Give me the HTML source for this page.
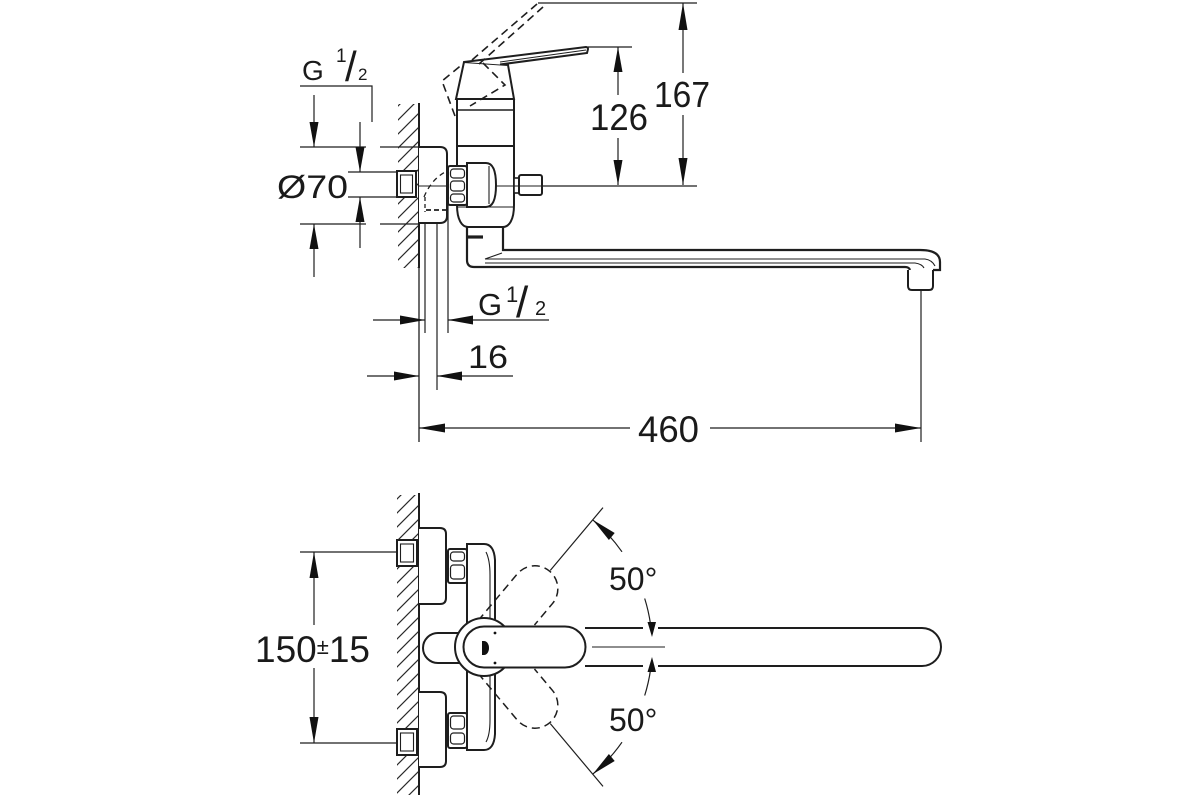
<!DOCTYPE html>
<html>
<head>
<meta charset="utf-8">
<style>
html,body{margin:0;padding:0;background:#fff;}
svg{display:block;}
text{font-family:"Liberation Sans",sans-serif;fill:#1a1a1a;}
</style>
</head>
<body>
<svg width="1200" height="800" viewBox="0 0 1200 800" xmlns="http://www.w3.org/2000/svg">
<defs>
<pattern id="h" patternUnits="userSpaceOnUse" width="14" height="14">
<path d="M0,14 L14,0 M-2,2 L2,-2 M12,16 L16,12" stroke="#2a2a2a" stroke-width="1.2" fill="none"/>
</pattern>
</defs>
<rect width="1200" height="800" fill="#fff"/>

<!-- ================= TOP VIEW (elevation) ================= -->
<g stroke="#1e1e1e" fill="none" stroke-linecap="butt">
<rect x="398" y="104" width="21" height="164" fill="url(#h)" stroke="none"/>
<line x1="419" y1="103" x2="419" y2="268" stroke-width="2"/>
<line x1="419" y1="268" x2="419" y2="442" stroke-width="1.3"/>

<g stroke-width="1.2">
<line x1="300" y1="147" x2="366" y2="147"/>
<line x1="380" y1="147" x2="419" y2="147"/>
<line x1="300" y1="224" x2="366" y2="224"/>
<line x1="380" y1="224" x2="419" y2="224"/>
<line x1="348" y1="172" x2="397" y2="172"/>
<line x1="348" y1="197" x2="397" y2="197"/>
<path d="M300,86 H372 V122"/>
<line x1="314" y1="95" x2="314" y2="147"/>
<line x1="314" y1="224" x2="314" y2="277"/>
<line x1="360" y1="122" x2="360" y2="172"/>
<line x1="360" y1="197" x2="360" y2="248"/>
<line x1="419" y1="186" x2="697" y2="186"/>
<line x1="588" y1="47" x2="632" y2="47"/>
<line x1="538" y1="3" x2="697" y2="3"/>
<line x1="618" y1="47" x2="618" y2="95"/>
<line x1="618" y1="138" x2="618" y2="185"/>
<line x1="683" y1="3" x2="683" y2="73"/>
<line x1="683" y1="115" x2="683" y2="185"/>
<line x1="425" y1="212" x2="425" y2="333"/>
<line x1="437" y1="212" x2="437" y2="390"/>
<line x1="448" y1="205" x2="448" y2="333"/>
<line x1="921" y1="290" x2="921" y2="442"/>
<line x1="373" y1="320" x2="425" y2="320"/>
<line x1="448" y1="320" x2="549" y2="320"/>
<line x1="367" y1="376" x2="419" y2="376"/>
<line x1="437" y1="376" x2="513" y2="376"/>
<line x1="419" y1="428" x2="630" y2="428"/>
<line x1="710" y1="428" x2="921" y2="428"/>
</g>

<path d="M419,147 H440 Q447,147 447,154 V216 Q447,223 440,223 H419" stroke-width="2" fill="#fff"/>
<path d="M424,197 Q431,180 445,172" stroke-width="1.3" stroke-dasharray="5,4"/>
<path d="M426,210 H447" stroke-width="1.8" stroke-dasharray="5,3"/>
<line x1="425" y1="197" x2="425" y2="212" stroke-width="1.3" stroke-dasharray="4,3"/>
<rect x="397" y="171" width="19" height="26" stroke-width="2" fill="#fff"/>
<rect x="400.5" y="175" width="12" height="18" stroke-width="1.1"/>

<path d="M457,99 V205 C457,220 462,227 468,227 H503 C509,227 514,220 514,205 V99" stroke-width="2" fill="#fff"/>
<line x1="457" y1="110" x2="514" y2="110" stroke-width="1.5"/>
<line x1="457" y1="146" x2="514" y2="146" stroke-width="2"/>
<line x1="457" y1="207" x2="514" y2="207" stroke-width="1.1"/>
<path d="M456,99 L464,62 L508,65 L514,99 Z" stroke-width="2" fill="#fff"/>
<path d="M464,62 L586,47 Q588,47 588,49 L587,53 L500,64.5" stroke-width="2" fill="#fff"/>
<line x1="500" y1="62" x2="586" y2="50" stroke-width="1"/>
<g stroke-width="1.6" stroke-dasharray="8,5">
<path d="M455,116 L442,81 L464,63"/>
<path d="M483,63 L505,85 L470,106"/>
<path d="M472,60 L537,4"/>
<path d="M479,64 L543,7"/>
</g>

<rect x="448" y="166" width="19" height="39" rx="2" stroke-width="2" fill="#fff"/>
<g stroke-width="1.2">
<rect x="450.5" y="169" width="14" height="9" rx="3"/>
<rect x="450.5" y="181" width="14" height="10" rx="3"/>
<rect x="450.5" y="194" width="14" height="8" rx="3"/>
</g>
<path d="M467,163 H486 Q496,163 496,185 Q496,207 486,207 H467 Z" stroke-width="2" fill="#fff"/>
<line x1="489" y1="166" x2="489" y2="204" stroke-width="1.1"/>
<rect x="514" y="178" width="5" height="15" stroke-width="1.6" fill="#fff"/>
<rect x="519" y="175" width="23" height="20" rx="2" stroke-width="2" fill="#fff"/>
<line x1="496" y1="186" x2="542" y2="186" stroke-width="1.1"/>
<line x1="419" y1="186" x2="448" y2="186" stroke-width="1.1"/>

<path d="M467,227 V260 Q467,267 474,267 H905 Q909,267 910,270" stroke-width="2.2"/>
<path d="M503,227 V250 H920 Q940,250 940,262 V270 H933" stroke-width="2.2"/>
<path d="M485,259 H925 Q932,260 935,266" stroke-width="1.1"/>
<path d="M485,263 H915 Q922,264 924,268" stroke-width="1.1"/>
<line x1="485" y1="259" x2="502" y2="253" stroke-width="1.1"/>
<line x1="467" y1="237" x2="483" y2="237" stroke-width="3.2"/>
<path d="M908,270 V286 Q908,290 912,290 H929 Q933,290 933,286 V270" stroke-width="2" fill="#fff"/>
</g>

<g fill="#111" stroke="none">
<polygon points="314,147 309.5,122 318.5,122"/>
<polygon points="314,224 309.5,249 318.5,249"/>
<polygon points="360,172 355.5,147 364.5,147"/>
<polygon points="360,197 355.5,222 364.5,222"/>
<polygon points="618,47 613.5,72 622.5,72"/>
<polygon points="618,185 613.5,160 622.5,160"/>
<polygon points="683,3 678.5,30 687.5,30"/>
<polygon points="683,185 678.5,158 687.5,158"/>
<polygon points="425,320 400,315.5 400,324.5"/>
<polygon points="448,320 473,315.5 473,324.5"/>
<polygon points="419,376 394,371.5 394,380.5"/>
<polygon points="437,376 462,371.5 462,380.5"/>
<polygon points="419,428 445,423.5 445,432.5"/>
<polygon points="921,428 895,423.5 895,432.5"/>
</g>

<text x="302" y="80" font-size="28">G</text>
<text x="336" y="62" font-size="19">1</text>
<text x="345" y="81" font-size="42">/</text>
<text x="358" y="80" font-size="17">2</text>
<text x="277" y="198" font-size="32" textLength="71" lengthAdjust="spacingAndGlyphs">Ø70</text>
<text x="590" y="130" font-size="37" textLength="58" lengthAdjust="spacingAndGlyphs">126</text>
<text x="654" y="107" font-size="36" textLength="56" lengthAdjust="spacingAndGlyphs">167</text>
<text x="478" y="315" font-size="31">G</text>
<text x="506" y="302" font-size="22">1</text>
<text x="516" y="317" font-size="44">/</text>
<text x="535" y="315" font-size="20">2</text>
<text x="468" y="368" font-size="32" textLength="40" lengthAdjust="spacingAndGlyphs">16</text>
<text x="638" y="442" font-size="37" textLength="61" lengthAdjust="spacingAndGlyphs">460</text>

<!-- ================= PLAN VIEW ================= -->
<g stroke="#1e1e1e" fill="none">
<rect x="397" y="495" width="22" height="300" fill="url(#h)" stroke="none"/>
<line x1="419" y1="493" x2="419" y2="795" stroke-width="2"/>

<g stroke-width="1.2">
<line x1="300" y1="552" x2="397" y2="552"/>
<line x1="300" y1="743" x2="397" y2="743"/>
<line x1="314" y1="552" x2="314" y2="625"/>
<line x1="314" y1="668" x2="314" y2="743"/>
</g>

<path d="M419,528 H440 Q446,528 446,534 V598 Q446,604 440,604 H419" stroke-width="2" fill="#fff"/>
<path d="M419,692 H440 Q446,692 446,698 V761 Q446,767 440,767 H419" stroke-width="2" fill="#fff"/>
<rect x="397" y="540" width="20" height="26" stroke-width="2" fill="#fff"/>
<rect x="400.5" y="544" width="13" height="18" stroke-width="1.1"/>
<rect x="397" y="729" width="20" height="26" stroke-width="2" fill="#fff"/>
<rect x="400.5" y="733" width="13" height="18" stroke-width="1.1"/>

<path d="M467,544 H484 Q494,544 495,560 L495,734 Q494,750 484,750 H467 Z" stroke-width="2" fill="#fff"/>
<path d="M486,552 Q490,560 490,575 V720 Q490,735 486,742" stroke-width="1.1"/>

<rect x="448" y="549" width="19" height="34" rx="2" stroke-width="2" fill="#fff"/>
<rect x="450.5" y="552" width="14" height="9" rx="3" stroke-width="1.2"/>
<rect x="450.5" y="565" width="14" height="14" rx="3" stroke-width="1.2"/>
<rect x="448" y="713" width="19" height="35" rx="2" stroke-width="2" fill="#fff"/>
<rect x="450.5" y="716" width="14" height="13" rx="3" stroke-width="1.2"/>
<rect x="450.5" y="733" width="14" height="11" rx="3" stroke-width="1.2"/>

<g transform="translate(486,647) rotate(-50)" stroke-width="1.5" stroke-dasharray="8,5">
<path d="M15,-23 H76 A23,23 0 0 1 76,23 H48"/>
</g>
<g transform="translate(486,647) rotate(50)" stroke-width="1.5" stroke-dasharray="8,5">
<path d="M15,23 H76 A23,23 0 0 0 76,-23 H48"/>
</g>

<path d="M460,633 H438 A15,15 0 0 0 438,663 H460" stroke-width="2" fill="#fff"/>
<circle cx="484" cy="647" r="29" stroke-width="2" fill="#fff"/>
<path d="M484,626.5 H565 A20.5,20.5 0 0 1 565,667.5 H484 A20.5,20.5 0 0 1 484,626.5 Z" stroke-width="2" fill="#fff"/>

<path d="M585,628 H643 M658,628 H922 A19,19 0 0 1 922,666 H658 M643,666 H585" stroke-width="2"/>
<line x1="592" y1="647" x2="665" y2="647" stroke-width="1.1"/>

<g stroke-width="1.2">
<line x1="550.3" y1="570.4" x2="603" y2="507.6"/>
<line x1="550.3" y1="723.6" x2="603" y2="786.4"/>
<path d="M592.7,519.8 A166,166 0 0 1 622,551.8"/>
<path d="M644.7,598.5 A166,166 0 0 1 650.5,624"/>
<path d="M650.5,670 A166,166 0 0 1 644.7,695.5"/>
<path d="M622,742.2 A166,166 0 0 1 592.7,774.2"/>
</g>
</g>

<path d="M482,641 H484 A5,7 0 0 1 484,655 H482 Z" fill="#111"/>
<circle cx="495" cy="633" r="1.4" fill="#111"/>
<circle cx="495" cy="663" r="1.4" fill="#111"/>

<g fill="#111" stroke="none">
<polygon points="314,552 309.5,578 318.5,578"/>
<polygon points="314,743 309.5,717 318.5,717"/>
<polygon points="592.7,519.8 614.7,533 608.9,540"/>
<polygon points="592.7,774.2 614.7,761 608.9,754"/>
<polygon points="652,637 647.5,622 656,622"/>
<polygon points="652,657 647.5,672 656,672"/>
</g>

<text x="255" y="662" font-size="37">150<tspan font-size="22" dy="-8">±</tspan><tspan dy="8">15</tspan></text>
<text x="609" y="590" font-size="32">50°</text>
<text x="609" y="731" font-size="32">50°</text>
</svg>
</body>
</html>
